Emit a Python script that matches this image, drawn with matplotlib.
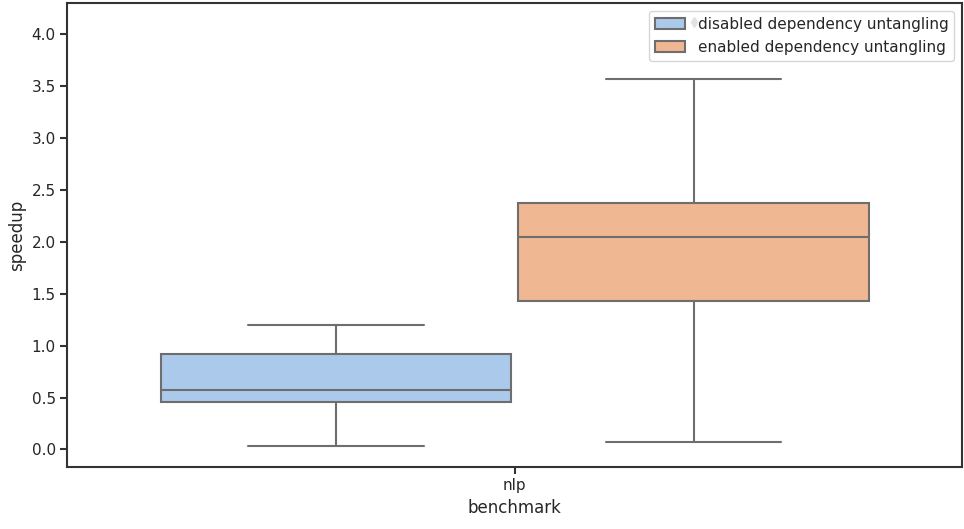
import matplotlib
matplotlib.use("Agg")
import matplotlib.pyplot as plt
from matplotlib.patches import Patch
import seaborn as sns

sns.set_style("ticks")

# box statistics (speedup)
labels = ["disabled dependency untangling", "enabled dependency untangling"]
whislo = [0.03, 0.075]
q1 = [0.46, 1.43]
med = [0.575, 2.05]
q3 = [0.92, 2.37]
whishi = [1.20, 3.57]
fliers = [[], [4.12]]
benchmarks = ["nlp"]

colors = [sns.desaturate(c, 0.75) for c in ["#a1c9f4", "#ffb482"]]
line_col = "#6e6e6e"

stats = []
for i in range(len(labels)):
    stats.append(dict(whislo=whislo[i], q1=q1[i], med=med[i], q3=q3[i],
                      whishi=whishi[i], fliers=fliers[i], label=labels[i]))

fig, ax = plt.subplots(figsize=(9.64, 5.29), dpi=100)
fig.subplots_adjust(left=0.07, right=0.998, top=0.994, bottom=0.118)

positions = [-0.2, 0.2]
bp = ax.bxp(stats, positions=positions, widths=0.392, patch_artist=True,
            showcaps=True, manage_ticks=False,
            boxprops=dict(edgecolor=line_col, linewidth=1.5),
            medianprops=dict(color=line_col, linewidth=1.5),
            whiskerprops=dict(color=line_col, linewidth=1.5),
            capprops=dict(color=line_col, linewidth=1.5),
            flierprops=dict(marker="d", markersize=5, markerfacecolor=line_col,
                            markeredgecolor=line_col))
for patch, c in zip(bp["boxes"], colors):
    patch.set_facecolor(c)

ax.set_xlim(-0.5, 0.5)
ax.set_ylim(-0.165, 4.3)
ax.set_xticks([0])
ax.set_xticklabels(benchmarks)
ax.set_xlabel("benchmark", fontsize=12)
ax.set_ylabel("speedup", fontsize=12)
ax.tick_params(labelsize=11, width=1.5, length=5, color="#333333")
for s in ax.spines.values():
    s.set_linewidth(1.5)
    s.set_color("#333333")

handles = [Patch(facecolor=c, edgecolor=line_col, linewidth=1.5) for c in colors]
ax.legend(handles, labels, loc="upper right", fontsize=11)

fig.savefig("out.png")
